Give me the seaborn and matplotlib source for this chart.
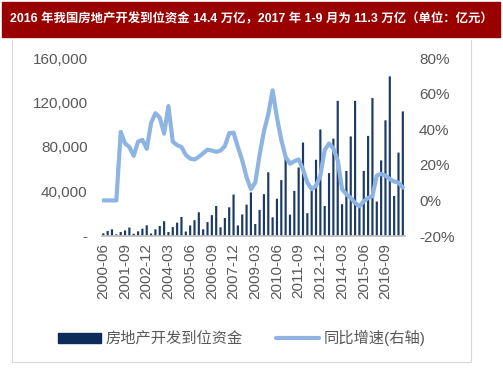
import matplotlib
matplotlib.use('Agg')
import matplotlib.pyplot as plt
import seaborn as sns
from matplotlib.patches import Rectangle, Patch
from matplotlib.lines import Line2D
from matplotlib.ticker import FuncFormatter

# quarterly cumulative funds (亿元), 2000-06 .. 2017-09
funds = [2400, 4500, 6000,
         1500, 3600, 5000, 7600,
         2000, 4200, 6600, 9600,
         2300, 6000, 9000, 13300,
         3600, 8000, 12000, 17100,
         4000, 9500, 14200, 21300,
         6000, 12500, 18800, 27000,
         7800, 16200, 25800, 37300,
         9500, 19400, 28200, 39200,
         10800, 23400, 37600, 57300,
         16800, 33500, 50300, 71000,
         19200, 40600, 61600, 84000,
         20500, 43500, 68500, 95800,
         27000, 56500, 87500, 121500,
         28600, 58500, 89500, 121500,
         28600, 58500, 90000, 124000,
         31000, 68000, 104000, 143500,
         36000, 75000, 112000]

# yoy growth (%), right axis
growth = [0, 0, 0, 0, 38.5, 32, 30, 25, 33, 34,
          29, 43.5, 49, 46.5, 37.5, 53, 33, 31, 30, 25.5,
          23.5, 23, 24.5, 26.5, 28.5, 28, 27.3, 28, 30.5, 37.8,
          38, 30, 22.5, 13, 6.3, 10, 25.5, 38.8, 48.4, 61.8,
          46.5, 34, 24.4, 20.6, 22, 23, 17.5, 10, 6.3, 8.2,
          14, 28.3, 32, 29.2, 22.5, 6.3, 3.4, 1.4, -1.4, -3.3,
          -0.5, 1.4, 2.4, 13.9, 14.9, 13.9, 12, 10.6, 10, 7.2]

tick_labels = ['2000-06', '2001-09', '2002-12', '2004-03', '2005-06', '2006-09', '2007-12',
               '2009-03', '2010-06', '2011-09', '2012-12', '2014-03', '2015-06', '2016-09']

title = '2016 年我国房地产开发到位资金 14.4 万亿，2017 年 1-9 月为 11.3 万亿（单位：亿元）'
bar_name = '房地产开发到位资金'
line_name = '同比增速(右轴)'

bar_color = '#1B3A66'
line_color = '#8DB4E2'
txt_color = '#595959'

sns.set_theme(style='white')
plt.rcParams['font.family'] = ['Liberation Sans', 'Noto Sans CJK SC', 'DejaVu Sans']

W, H = 503, 378
fig = plt.figure(figsize=(W / 100, H / 100), dpi=100)
ax = fig.add_axes([101.6 / W, 1 - 236 / H, (405 - 101.6) / W, (236 - 58) / H])

idx = list(range(len(funds)))
sns.barplot(x=idx, y=funds, native_scale=True, color=bar_color, saturation=1,
            width=0.5, errorbar=None, linewidth=0, ax=ax)
for p in ax.patches:
    p.set_snap(False)
ax2 = ax.twinx()
sns.lineplot(x=idx, y=growth, color=line_color, lw=3, ax=ax2)

ax.set_xlim(-0.4, 69.5)
ax.set_ylim(0, 160000)
ax.set_yticks([0, 40000, 80000, 120000, 160000])
ax.yaxis.set_major_formatter(FuncFormatter(lambda v, p: '-' if v == 0 else f'{v:,.0f}'))
ax2.set_ylim(-20, 80)
ax2.set_yticks([-20, 0, 20, 40, 60, 80])
ax2.yaxis.set_major_formatter(FuncFormatter(lambda v, p: f'{v:.0f}%'))

ax.set_xticks(range(0, 70, 5))
ax.set_xticklabels(tick_labels, rotation=90)
ax.tick_params(axis='x', length=3, width=0.8, color='#BFBFBF', labelsize=11, labelcolor=txt_color, pad=2)
ax.tick_params(axis='y', length=0, labelsize=11, labelcolor=txt_color, pad=10)
ax2.tick_params(axis='y', length=0, labelsize=11, labelcolor=txt_color, pad=10)

for s in ['top', 'left', 'right']:
    ax.spines[s].set_visible(False)
ax.spines['bottom'].set_color('#BFBFBF')
for s in ax2.spines.values():
    s.set_visible(False)
ax.grid(False)
ax2.grid(False)

handles = [Patch(color='#0D2C5C'), Line2D([0], [0], color=line_color, lw=3)]
fig.legend(handles, [bar_name, line_name], loc='center', bbox_to_anchor=(242 / W, 1 - 338 / H),
           ncol=2, frameon=False, fontsize=11, handlelength=2.8, handleheight=0.6,
           columnspacing=2.2, handletextpad=0.3, labelcolor=txt_color)

# title band
fig.add_artist(Rectangle((2 / W, 1 - 37 / H), 498 / W, 35 / H, transform=fig.transFigure,
                         color='#990000', zorder=0))
fig.text(251 / W, 1 - 19.5 / H, title, color='white', fontsize=8.9, fontweight='bold',
         ha='center', va='center', family=['Liberation Sans', 'Noto Sans CJK SC'])

# frame lines
frame = '#D9D9D9'
fig.add_artist(Line2D([12 / W, 12 / W], [1 - 40 / H, 1 - 362 / H], color=frame, lw=0.8))
fig.add_artist(Line2D([471 / W, 471 / W], [1 - 40 / H, 1 - 362 / H], color=frame, lw=0.8))
fig.add_artist(Line2D([12 / W, 471 / W], [1 - 362 / H, 1 - 362 / H], color=frame, lw=0.8))

fig.savefig('out.png', dpi=100)
